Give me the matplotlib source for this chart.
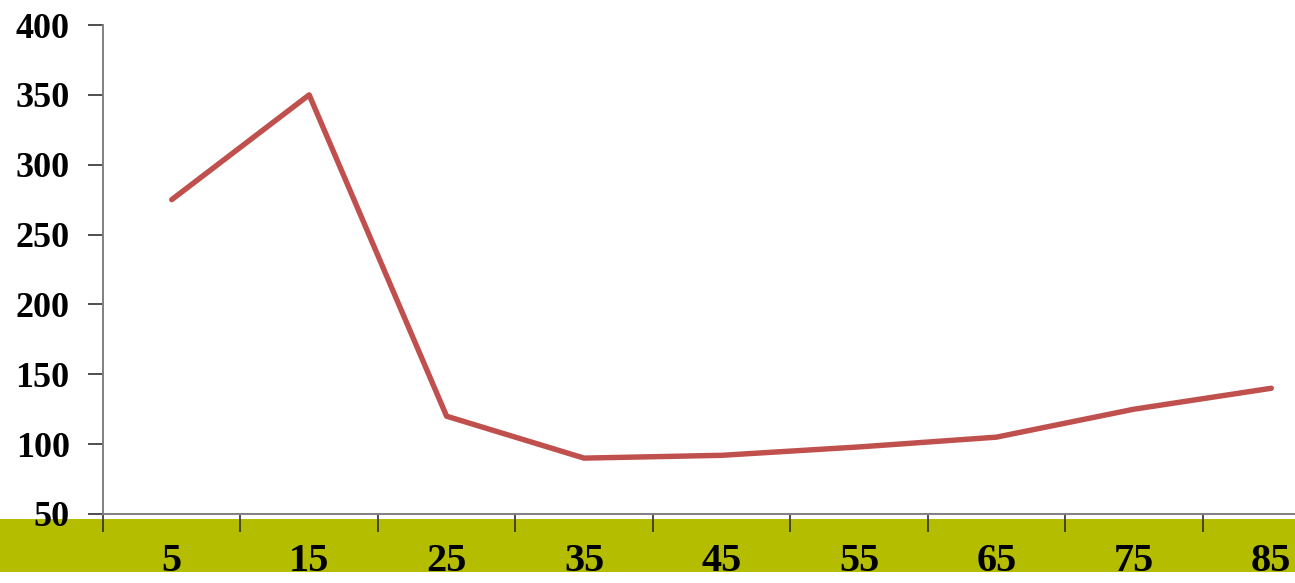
import matplotlib
matplotlib.use("Agg")
import matplotlib.pyplot as plt
from matplotlib.patches import Rectangle
import numpy as np

categories = ["5", "15", "25", "35", "45", "55", "65", "75", "85"]
values = [275, 350, 120, 90, 92, 98, 105, 125, 140]
y_ticks = [50, 100, 150, 200, 250, 300, 350, 400]

plt.rcParams['font.family'] = ['Liberation Serif', 'DejaVu Serif']
plt.rcParams['font.weight'] = 'bold'

fig = plt.figure(figsize=(12.95, 5.83), dpi=100)
# plot area runs past the right edge, so the last category is cut off
ax = fig.add_axes([103 / 1295, 69 / 583, 1237 / 1295, 489 / 583])
ax.set_facecolor('none')

# olive band behind the category labels
band = Rectangle((0, 11 / 583), 1, 53 / 583, transform=fig.transFigure,
                 facecolor='#b5bd00', edgecolor='none')
fig.add_artist(band)
band.set_zorder(-1)

x = np.arange(len(categories))
ax.plot(x, values, color='#c0504d', linewidth=3.9, solid_capstyle='round',
        solid_joinstyle='round')

ax.set_xlim(-0.5, len(categories) - 0.5)
ax.set_ylim(50, 400)
ax.set_yticks(y_ticks)
ax.set_yticklabels([str(v) for v in y_ticks], fontsize=26, fontweight='bold')

ax.set_xticks(x)
ax.set_xticklabels(categories, fontsize=29, fontweight='bold')
ax.set_xticks(np.arange(len(categories) + 1) - 0.5, minor=True)
ax.tick_params(axis='x', which='major', length=0, pad=21)
ax.tick_params(axis='x', which='minor', length=13, width=1.2, color='#303030',
               direction='out')
ax.tick_params(axis='y', length=11, width=1.2, color='#303030', pad=13)

for side in ['top', 'right']:
    ax.spines[side].set_visible(False)
for side in ['left', 'bottom']:
    ax.spines[side].set_color('#808080')
    ax.spines[side].set_linewidth(1.4)

fig.savefig('out.png', dpi=100)
